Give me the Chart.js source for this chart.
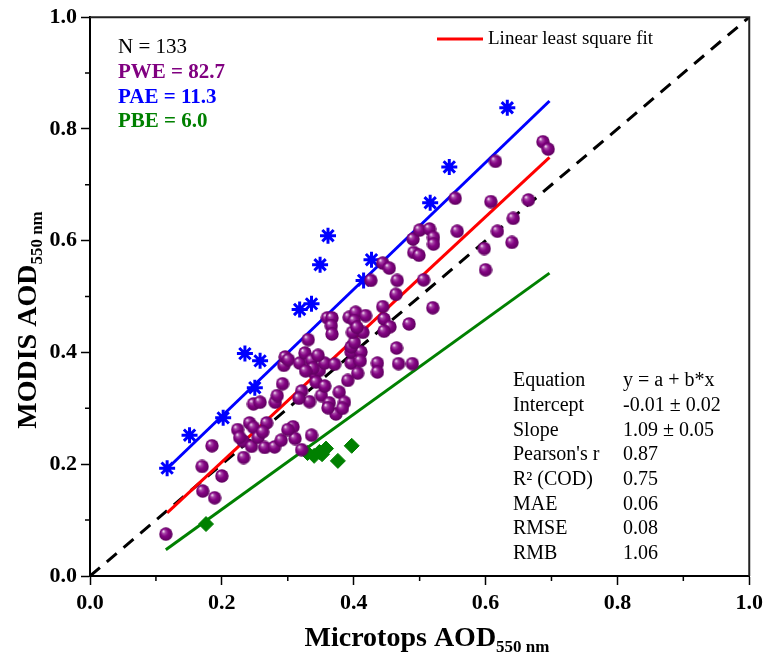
<!DOCTYPE html>
<html>
<head>
<meta charset="utf-8">
<script src="https://cdn.jsdelivr.net/npm/chart.js@4.4.0/dist/chart.umd.min.js"></script>
<style>
  html, body { margin: 0; padding: 0; background: #fff; }
</style>
</head>
<body>
<canvas id="chart" width="768" height="655"></canvas>
<script>
// points within expected error (purple spheres)
const pweX = [0.115, 0.170, 0.185, 0.200, 0.171, 0.189, 0.224, 0.232, 0.233, 0.242, 0.248, 0.245, 0.255, 0.268, 0.265, 0.280, 0.290, 0.248, 0.258, 0.281,
  0.284, 0.292, 0.294, 0.296, 0.308, 0.311, 0.336, 0.321, 0.301, 0.318, 0.326, 0.336, 0.331, 0.341, 0.348, 0.356, 0.371, 0.343, 0.321, 0.333,
  0.351, 0.378, 0.363, 0.373, 0.386, 0.391, 0.396, 0.406, 0.396, 0.411, 0.396, 0.401, 0.414, 0.398, 0.393, 0.403, 0.418, 0.401, 0.360, 0.367,
  0.366, 0.367, 0.444, 0.446, 0.455, 0.446, 0.465, 0.484, 0.436, 0.436, 0.468, 0.489, 0.426, 0.444, 0.454, 0.466, 0.464, 0.506, 0.491, 0.499,
  0.490, 0.500, 0.515, 0.521, 0.521, 0.520, 0.615, 0.687, 0.695, 0.554, 0.608, 0.665, 0.557, 0.642, 0.618, 0.598, 0.640, 0.600, 0.338, 0.356,
  0.383, 0.300, 0.262, 0.346, 0.405, 0.410, 0.227, 0.317, 0.361, 0.327];
const pweY = [0.075, 0.196, 0.233, 0.179, 0.152, 0.140, 0.262, 0.242, 0.212, 0.274, 0.266, 0.232, 0.248, 0.274, 0.230, 0.231, 0.243, 0.308, 0.311, 0.311,
  0.323, 0.344, 0.377, 0.392, 0.267, 0.246, 0.252, 0.226, 0.387, 0.381, 0.399, 0.386, 0.423, 0.362, 0.368, 0.381, 0.379, 0.347, 0.331, 0.312,
  0.323, 0.329, 0.310, 0.290, 0.311, 0.350, 0.381, 0.363, 0.401, 0.401, 0.410, 0.418, 0.436, 0.436, 0.463, 0.472, 0.466, 0.457, 0.462, 0.462,
  0.448, 0.433, 0.482, 0.460, 0.446, 0.438, 0.408, 0.451, 0.381, 0.365, 0.380, 0.380, 0.529, 0.560, 0.551, 0.529, 0.504, 0.530, 0.579, 0.574,
  0.603, 0.619, 0.621, 0.606, 0.594, 0.480, 0.742, 0.777, 0.764, 0.676, 0.670, 0.673, 0.617, 0.640, 0.617, 0.586, 0.597, 0.548, 0.372, 0.340,
  0.300, 0.262, 0.258, 0.395, 0.445, 0.385, 0.248, 0.318, 0.301, 0.367];

// above expected error (blue stars)
const paeX = [0.117, 0.151, 0.202, 0.250, 0.235, 0.258, 0.318, 0.336, 0.349, 0.361, 0.415, 0.427, 0.516, 0.545, 0.633];
const paeY = [0.193, 0.252, 0.283, 0.337, 0.398, 0.385, 0.477, 0.487, 0.557, 0.609, 0.529, 0.566, 0.668, 0.732, 0.838];

// below expected error (green diamonds)
const pbeX = [0.176, 0.330, 0.340, 0.348, 0.352, 0.358, 0.376, 0.397];
const pbeY = [0.093, 0.220, 0.215, 0.222, 0.218, 0.228, 0.206, 0.233];

// lines
const fitX = [0.117, 0.697];
const fitY = [0.113, 0.749];
const upperX = [0.117, 0.697];
const upperY = [0.192, 0.850];
const lowerX = [0.115, 0.697];
const lowerY = [0.047, 0.542];
const oneX = [0, 1];
const oneY = [0, 1];

const minorTicks = [0.1, 0.3, 0.5, 0.7, 0.9];

const statLabels = ["Equation", "Intercept", "Slope", "Pearson's r", "R\u00B2 (COD)", "MAE", "RMSE", "RMB"];
const statValues = ["y = a + b*x", "-0.01 \u00B1 0.02", "1.09 \u00B1 0.05", "0.87", "0.75", "0.06", "0.08", "1.06"];

const serif = "'Liberation Serif', 'Times New Roman', serif";

function pts(xs, ys) {
  return xs.map((v, i) => ({ x: v, y: ys[i] }));
}

function makeSphere(d) {
  const c = document.createElement('canvas');
  c.width = c.height = d;
  const g = c.getContext('2d');
  const r = d / 2;
  const grad = g.createRadialGradient(r * 0.62, r * 0.58, 0.3, r, r, r);
  grad.addColorStop(0, '#f6e6f6');
  grad.addColorStop(0.22, '#a84aa8');
  grad.addColorStop(0.5, '#850585');
  grad.addColorStop(1, '#5c005c');
  g.fillStyle = grad;
  g.beginPath();
  g.arc(r, r, r - 0.3, 0, Math.PI * 2);
  g.fill();
  return c;
}

// text with a subscript, optionally rotated
function subText(ctx, main, sub, cx, cy, rotate) {
  ctx.save();
  ctx.translate(cx, cy);
  if (rotate) ctx.rotate(-Math.PI / 2);
  const mainFont = "bold 28px " + serif;
  const subFont = "bold 17px " + serif;
  ctx.font = mainFont;
  const w1 = ctx.measureText(main).width;
  ctx.font = subFont;
  const w2 = ctx.measureText(sub).width;
  const x0 = -(w1 + w2) / 2;
  ctx.fillStyle = '#000';
  ctx.textBaseline = 'alphabetic';
  ctx.textAlign = 'left';
  ctx.font = mainFont;
  ctx.fillText(main, x0, 0);
  ctx.font = subFont;
  ctx.fillText(sub, x0 + w1, 6);
  ctx.restore();
}

const extras = {
  id: 'extras',
  afterDraw(chart) {
    const { ctx, chartArea: a, scales: { x, y } } = chart;
    ctx.save();
    // frame on top and right
    ctx.strokeStyle = '#222';
    ctx.lineWidth = 2;
    ctx.beginPath();
    ctx.moveTo(a.left, a.top);
    ctx.lineTo(a.right, a.top);
    ctx.lineTo(a.right, a.bottom);
    ctx.stroke();

    // minor ticks
    ctx.strokeStyle = '#000';
    ctx.lineWidth = 1.5;
    minorTicks.forEach(v => {
      const px = x.getPixelForValue(v);
      const py = y.getPixelForValue(v);
      ctx.beginPath();
      ctx.moveTo(px, a.bottom);
      ctx.lineTo(px, a.bottom + 5);
      ctx.moveTo(a.left - 5, py);
      ctx.lineTo(a.left, py);
      ctx.stroke();
    });

    // axis titles
    subText(ctx, 'Microtops AOD', '550 nm', 427, 646, false);
    subText(ctx, 'MODIS AOD', '550 nm', 36, 320, true);

    // counts
    ctx.textAlign = 'left';
    ctx.textBaseline = 'middle';
    ctx.font = "21px " + serif;
    ctx.fillStyle = '#000';
    ctx.fillText('N = 133', 118, 47);
    ctx.font = "bold 21px " + serif;
    ctx.fillStyle = '#800080';
    ctx.fillText('PWE = 82.7', 118, 72.5);
    ctx.fillStyle = '#0000ff';
    ctx.fillText('PAE = 11.3', 118, 97.5);
    ctx.fillStyle = '#008000';
    ctx.fillText('PBE = 6.0', 118, 122);

    // legend
    ctx.strokeStyle = '#ff0000';
    ctx.lineWidth = 3;
    ctx.beginPath();
    ctx.moveTo(437, 39);
    ctx.lineTo(483, 39);
    ctx.stroke();
    ctx.fillStyle = '#000';
    ctx.font = "19px " + serif;
    ctx.fillText('Linear least square fit', 488, 39);

    // stats table
    ctx.font = "20px " + serif;
    statLabels.forEach((s, i) => {
      const yy = 381 + i * 24.7;
      ctx.fillText(s, 513, yy);
      ctx.fillText(statValues[i], 623, yy);
    });
    ctx.restore();
  }
};

const tickFont = { family: serif, size: 22, weight: 'bold' };

new Chart(document.getElementById('chart'), {
  type: 'scatter',
  data: {
    datasets: [
      {
        label: 'PWE',
        data: pts(pweX, pweY),
        pointStyle: makeSphere(14),
        pointRadius: 7
      },
      {
        label: 'PAE',
        data: pts(paeX, paeY),
        pointStyle: 'star',
        pointRadius: 8,
        borderColor: '#0000ff',
        backgroundColor: '#0000ff',
        borderWidth: 3
      },
      {
        label: 'PBE',
        data: pts(pbeX, pbeY),
        pointStyle: 'rectRot',
        pointRadius: 7.5,
        borderColor: '#008000',
        backgroundColor: '#008000',
        borderWidth: 1
      },
      {
        label: 'Linear least square fit',
        data: pts(fitX, fitY),
        showLine: true,
        pointRadius: 0,
        borderColor: '#ff0000',
        borderWidth: 3
      },
      {
        label: 'upper',
        data: pts(upperX, upperY),
        showLine: true,
        pointRadius: 0,
        borderColor: '#0000ff',
        borderWidth: 3
      },
      {
        label: 'lower',
        data: pts(lowerX, lowerY),
        showLine: true,
        pointRadius: 0,
        borderColor: '#008000',
        borderWidth: 3
      },
      {
        label: '1:1',
        data: pts(oneX, oneY),
        showLine: true,
        pointRadius: 0,
        borderColor: '#000',
        borderWidth: 3,
        borderDash: [13, 9]
      }
    ]
  },
  options: {
    responsive: false,
    animation: false,
    layout: { padding: { left: 0, right: 13, top: 16, bottom: 0 } },
    plugins: {
      legend: { display: false },
      tooltip: { enabled: false }
    },
    scales: {
      x: {
        type: 'linear',
        min: 0,
        max: 1,
        afterFit(s) { s.height = 79; },
        ticks: {
          stepSize: 0.2,
          color: '#000',
          font: tickFont,
          padding: 5,
          maxRotation: 0,
          callback: v => v.toFixed(1)
        },
        grid: { drawOnChartArea: false, tickLength: 9, tickColor: '#000', tickWidth: 1.5 },
        border: { color: '#000', width: 2 }
      },
      y: {
        type: 'linear',
        min: 0,
        max: 1,
        afterFit(s) { s.width = 90; },
        ticks: {
          stepSize: 0.2,
          color: '#000',
          font: tickFont,
          padding: 4,
          callback: v => v.toFixed(1)
        },
        grid: { drawOnChartArea: false, tickLength: 9, tickColor: '#000', tickWidth: 1.5 },
        border: { color: '#000', width: 2 }
      }
    }
  },
  plugins: [extras]
});
</script>
</body>
</html>
